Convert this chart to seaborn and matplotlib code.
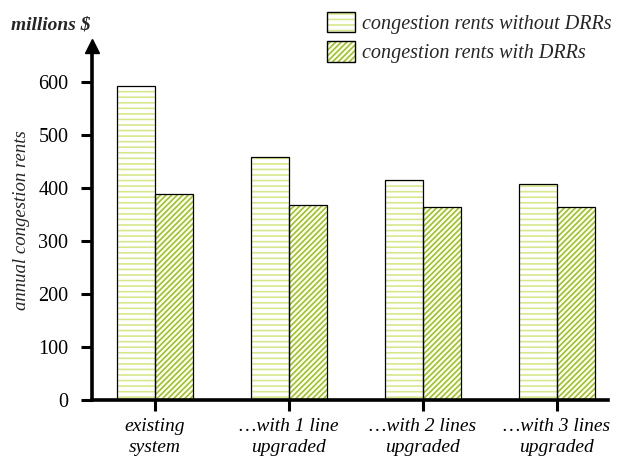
import numpy as np
import pandas as pd
import matplotlib.pyplot as plt
import seaborn as sns
from matplotlib.patches import Patch

# data
categories = ['existing\nsystem', '\u2026with 1 line\nupgraded',
              '\u2026with 2 lines\nupgraded', '\u2026with 3 lines\nupgraded']
without_drr = [592, 458, 415, 407]
with_drr = [388, 368, 365, 365]
series = ['congestion rents without DRRs', 'congestion rents with DRRs']
yticks = [0, 100, 200, 300, 400, 500, 600]

df = pd.DataFrame({
    'case': categories * 2,
    'value': without_drr + with_drr,
    'series': [series[0]] * 4 + [series[1]] * 4,
})

sns.set_style('white')
plt.rcParams['font.family'] = ['Liberation Serif', 'DejaVu Serif']
plt.rcParams['hatch.linewidth'] = 1.2

fig = plt.figure(figsize=(6.19, 4.62), dpi=100)
ax = fig.add_axes([0.1486, 0.134, 0.833, 0.78])

hatch_cols = {series[0]: '#d6e88c', series[1]: '#9cc41a'}
hatches = {series[0]: '---', series[1]: '//////'}

# hatched fill, coloured hatch lines
sns.barplot(data=df, x='case', y='value', hue='series', order=categories,
            hue_order=series, palette=['white', 'white'], width=0.57,
            ax=ax, legend=False, linewidth=0, saturation=1)
# black outlines on top
sns.barplot(data=df, x='case', y='value', hue='series', order=categories,
            hue_order=series, fill=False, color='black', width=0.57,
            ax=ax, legend=False, linewidth=0.9)

n = len(categories)
for i, p in enumerate(ax.patches[:2 * n]):
    s = series[i // n]
    p.set_hatch(hatches[s])
    p.set_edgecolor(hatch_cols[s])
for p in ax.patches[2 * n:]:
    p.set_edgecolor('black')
    p.set_facecolor('none')

ax.set_xlim(-0.47, 3.38)
ax.set_ylim(0, 680)
ax.set_yticks(yticks)
ax.set_yticklabels([str(t) for t in yticks], fontsize=14.5)
ax.set_xticks(range(n))
ax.set_xticklabels(categories, fontsize=14, style='italic', linespacing=1.3)
ax.set_xlabel('')
ax.set_ylabel('annual congestion rents', fontsize=13.5, style='italic', labelpad=6)

for side in ['top', 'right']:
    ax.spines[side].set_visible(False)
for side in ['left', 'bottom']:
    ax.spines[side].set_linewidth(2.6)
    ax.spines[side].set_color('black')
ax.spines['left'].set_bounds(0, 665)
ax.tick_params(axis='both', direction='out', length=8, width=2.2, colors='black',
               left=True, bottom=True)
ax.tick_params(axis='x', pad=5)
ax.tick_params(axis='y', pad=9)
ax.plot([0], [668], marker='^', markersize=10, color='black',
        transform=ax.get_yaxis_transform(), clip_on=False)

fig.text(0.018, 0.946, 'millions $', fontsize=14, style='italic', weight='bold',
         ha='left', va='center')

handles = [(Patch(facecolor='white', edgecolor=hatch_cols[s], hatch=hatches[s], linewidth=0),
            Patch(facecolor='none', edgecolor='black', linewidth=1.0))
           for s in series]
leg = fig.legend(handles, series, loc='upper left', bbox_to_anchor=(0.505, 1.005),
                 frameon=False, prop={'style': 'italic', 'size': 14.5},
                 handlelength=1.4, handleheight=1.2, handletextpad=0.35,
                 labelspacing=0.35, borderpad=0.2)

fig.savefig('out.png', dpi=100)
